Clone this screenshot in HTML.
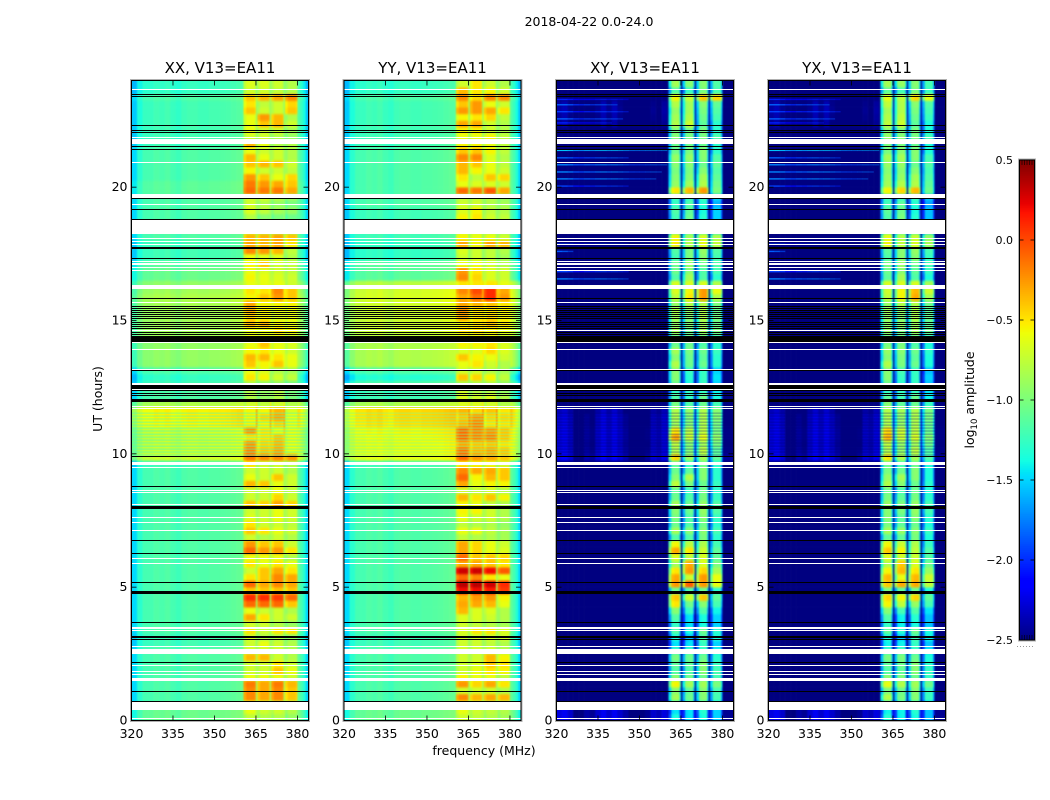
<!DOCTYPE html>
<html>
<head>
<meta charset="utf-8">
<title>2018-04-22 0.0-24.0</title>
<style>
html,body{margin:0;padding:0;background:#fff;width:1050px;height:800px;overflow:hidden}
svg{display:block}
text{font-family:"DejaVu Sans","Liberation Sans",sans-serif;fill:#000}
</style>
</head>
<body>
<svg id="chart" xmlns="http://www.w3.org/2000/svg" width="1050" height="800" viewBox="0 0 1050 800">
<defs>
<filter id="soften" filterUnits="userSpaceOnUse" x="0" y="0" width="1050" height="800" color-interpolation-filters="sRGB"><feGaussianBlur stdDeviation="0.7 1"/></filter>
</defs>
<text x="589" y="26" font-size="12.5" text-anchor="middle">2018-04-22 0.0-24.0</text>
<text transform="translate(102,399) rotate(-90)" font-size="12.5" text-anchor="middle">UT (hours)</text>
<text x="484" y="755" font-size="12.5" text-anchor="middle">frequency (MHz)</text>
<text transform="translate(974,400) rotate(-90)" font-size="12.5" text-anchor="middle">log<tspan dy="3" font-size="8.5">10</tspan><tspan dy="-3"> amplitude</tspan></text>
</svg>
<script>
// Channel start frequencies (MHz); the last channel ends at freqMax.
const channelStart = [320,322,324,326,328,330,332,334,336,338,340,342,344,346,348,350,352,354,356,358,360,
  360.5,361.5,362.5,363.5,364.5,365,365.5,366.5,367.5,368.5,369.5,370,370.5,371.5,372.5,373.5,374.5,375,
  375.5,376.5,377.5,378.5,379.5,380,381,382,383];
// Which value of a row each channel reads: 0 = continuum, 1-4 = spectral windows.
const channelSource = [0,0,0,0,0,0,0,0,0,0,0,0,0,0,0,0,0,0,0,0,0,
  1,1,1,1,1,0,2,2,2,2,2,0,3,3,3,3,3,0,4,4,4,4,4,0,0,0,0];
// Per-channel log10 amplitude offsets.
const shapeParallel = [-.28,-.1,0,0,.04,.02,.05,0,-.03,.03,.05,.05,.03,.03,.05,.05,.06,.07,.09,.11,.13,
  -.1,0,0,0,-.05,.33,-.1,0,0,0,-.05,.33,-.1,0,0,0,-.05,.33,-.1,0,0,0,-.05,.1,0,-.12,-.3];
const shapeCross = [.2,.25,.15,-.05,-.1,.05,0,.15,.25,.15,.25,.15,.05,-.1,-.1,-.1,0,.15,.1,.2,.1,
  -.5,0,.05,.05,-.5,.2,-.5,0,.05,.05,-.5,.2,-.5,0,.05,.05,-.5,.2,-.45,0,0,0,-.4,0,0,0,0];

// One row per 0.25 h, from UT 0 upward: [continuum, window1, window2, window3, window4] in log10 amplitude.
const rowsXX = [
[-1.1,-.75,-.8,-.8,-.9],[-1.1,-.6,-.7,-.7,-.8],[-1.2,-.6,-.7,-.7,-.8],[-1.2,-.2,-.3,-.2,-.4],
[-1.2,-.2,-.3,-.2,-.4],[-1.2,-.15,-.3,-.15,-.35],[-1.2,-.6,-.6,-.6,-.7],[-1.2,-.7,-.7,-.4,-.6],
[-1.2,-.7,-.7,-.5,-.7],[-1.2,-.35,-.35,-.7,-.8],[-1.2,-.7,-.7,-.7,-.8],[-1.25,-.7,-.6,-.7,-.8],
[-1.25,-.7,-.8,-.8,-.9],[-1.2,-.5,-.7,-.5,-.5],[-1.2,-.7,-.7,-.8,-.9],[-1.2,-.3,-.5,-.7,-.7],
[-1.2,-.6,-.7,-.7,-.8],[-1.2,-.1,-.1,-.1,-.4],[-1.2,.1,.1,.05,-.1],[-1.2,-.4,-.4,-.4,-.4],
[-1.2,-.1,-.3,-.2,-.3],[-1.2,-.5,-.4,-.2,-.3],[-1.2,-.7,-.4,-.3,-.5],[-1.2,-.5,-.6,-.5,-.6],
[-1.2,-.6,-.6,-.6,-.8],[-1.2,-.1,-.25,-.25,-.5],[-1.2,-.25,-.4,-.4,-.7],[-1.2,-.7,-.8,-.7,-.8],
[-1.2,-.4,-.5,-.6,-.7],[-1.2,-.5,-.7,-.7,-.75],[-1.2,-.65,-.7,-.6,-.7],[-1.2,-.7,-.7,-.6,-.7],
[-1.2,-.4,-.45,-.3,-.45],[-1.2,-.7,-.7,-.45,-.7],[-1.2,-.7,-.7,-.6,-.75],[-1.2,-.35,-.4,-.6,-.7],
[-1.2,-.6,-.7,-.4,-.7],[-1.2,-.7,-.7,-.7,-.8],[-1.25,-.5,-.7,-.7,-.8],[-.74,-.15,-.2,-.2,-.25],
[-.76,-.2,-.4,-.3,-.6],[-.76,-.25,-.45,-.35,-.6],[-.76,-.5,-.5,-.4,-.6],[-.74,-.25,-.5,-.6,-.6],
[-.6,-.55,-.55,-.45,-.6],[-.58,-.55,-.45,-.3,-.6],[-.58,-.55,-.55,-.35,-.65],[-.85,-.7,-.75,-.7,-.8],
[-1.2,-.8,-.9,-.8,-1],[-1.2,-.8,-.9,-.8,-1],[-1.25,-.8,-.9,-.9,-1],[-1.3,-.5,-.55,-.7,-.75],
[-1.2,-.6,-.65,-.8,-.85],[-.95,-.4,-.55,-.4,-.6],[-.95,-.35,-.35,-.5,-.6],[-.95,-.55,-.5,-.6,-.7],
[-.95,-.6,-.4,-.6,-.65],[-.9,-.6,-.6,-.6,-.7],[-.9,-.6,-.6,-.5,-.55],[-.9,-.35,-.35,-.55,-.6],
[-.9,-.45,-.55,-.65,-.6],[-.9,-.35,-.55,-.6,-.6],[-.88,-.3,-.55,-.55,-.55],[-.85,-.55,-.4,-.25,-.4],
[-.9,-.5,-.5,-.2,-.4],[-.95,-.6,-.6,-.6,-.7],[-1.1,-.55,-.6,-.65,-.7],[-1.1,-.6,-.65,-.7,-.75],
[-1.15,-.55,-.4,-.7,-.75],[-1.25,-.6,-.65,-.65,-.8],[-1.25,-.2,-.25,-.35,-.75],[-1.25,-.3,-.35,-.3,-.5],
[-1.2,-.35,-.35,-.3,-.4],[-1.2,-.7,-.8,-.8,-.9],[-1.2,-.7,-.8,-.8,-.9],[-1.2,-.8,-.95,-1,-1.05],
[-1.2,-.65,-.75,-.85,-.9],[-1.2,-.7,-.8,-.9,-1],[-1.2,-.7,-.7,-.8,-.9],[-1.15,-.1,-.15,-.15,-.3],
[-1.15,-.15,-.25,-.3,-.4],[-1.2,-.25,-.4,-.6,-.45],[-1.2,-.55,-.7,-.7,-.75],[-1.2,-.4,-.35,-.4,-.7],
[-1.2,-.35,-.6,-.7,-.8],[-1.2,-.6,-.7,-.7,-.8],[-1.25,-.35,-.6,-.8,-.8],[-1.25,-.7,-.7,-.8,-.9],
[-1.25,-.6,-.7,-.7,-.85],[-1.25,-.6,-.4,-.35,-.7],[-1.25,-.6,-.25,-.35,-.8],[-1.25,-.4,-.7,-.7,-.4],
[-1.25,-.5,-.75,-.7,-.45],[-1.2,-.4,-.35,-.3,-.2],[-1.3,-.7,-.7,-.75,-.8],[-1.3,-.65,-.65,-.7,-.8]];

const rowsYY = [
[-1.1,-.7,-.75,-.8,-.85],[-1.1,-.6,-.7,-.75,-.8],[-1.2,-.6,-.7,-.75,-.8],[-1.2,-.2,-.35,-.3,-.35],
[-1.2,-.7,-.7,-.7,-.8],[-1.2,-.25,-.45,-.3,-.5],[-1.2,-.55,-.6,-.6,-.75],[-1.2,-.7,-.6,-.5,-.55],
[-1.2,-.7,-.65,-.4,-.5],[-1.2,-.7,-.7,-.35,-.55],[-1.2,-.7,-.7,-.7,-.8],[-1.25,-.7,-.7,-.75,-.8],
[-1.25,-.7,-.7,-.7,-.7],[-1.2,-.65,-.5,-.5,-.65],[-1.2,-.7,-.75,-.8,-.85],[-1.2,-.65,-.65,-.7,-.8],
[-1.2,-.35,-.65,-.65,-.8],[-1.2,-.3,-.3,-.35,-.6],[-1.2,-.35,-.25,-.25,-.55],[-1.2,.2,.2,.15,.05],
[-1.2,.35,.35,.3,.1],[-1.2,-.1,-.2,-.5,-.6],[-1.2,.3,.3,.2,-.05],[-1.2,-.3,-.3,-.4,-.5],
[-1.2,-.1,-.4,-.4,-.45],[-1.2,-.3,-.45,-.6,-.65],[-1.2,-.3,-.45,-.6,-.7],[-1.2,-.75,-.8,-.8,-.85],
[-1.2,-.6,-.6,-.75,-.85],[-1.2,-.75,-.8,-.8,-.9],[-1.2,-.6,-.7,-.7,-.8],[-1.2,-.55,-.55,-.7,-.8],
[-1.2,-.55,-.6,-.75,-.8],[-1.2,-.35,-.5,-.4,-.55],[-1.2,-.7,-.75,-.7,-.8],[-1.2,-.3,-.6,-.55,-.55],
[-1.2,-.1,-.55,-.35,-.4],[-1.2,-.2,-.3,-.3,-.4],[-1.25,-.5,-.55,-.6,-.7],[-.65,-.1,-.25,-.3,-.4],
[-.65,-.15,-.35,-.3,-.4],[-.65,-.3,-.4,-.4,-.5],[-.62,-.12,-.2,-.2,-.4],[-.6,-.12,-.2,-.25,-.4],
[-.52,-.35,-.2,-.5,-.5],[-.5,-.4,-.25,-.45,-.45],[-.5,-.35,-.45,-.4,-.5],[-.85,-.65,-.65,-.7,-.8],
[-1.25,-.65,-.7,-.65,-.8],[-1.25,-.7,-.8,-.8,-.9],[-1.2,-.8,-.8,-.8,-.9],[-1.35,-.4,-.45,-.55,-.75],
[-1.2,-.7,-.7,-.8,-.85],[-.85,-.6,-.5,-.7,-.8],[-.85,-.4,-.55,-.6,-.7],[-.85,-.65,-.65,-.45,-.65],
[-.85,-.55,-.55,-.5,-.65],[-.8,-.6,-.6,-.6,-.7],[-.75,-.5,-.5,-.55,-.6],[-.75,-.55,-.5,-.4,-.5],
[-.75,-.3,-.5,-.45,-.55],[-.75,-.25,-.5,-.5,-.55],[-.72,-.3,-.35,-.4,-.5],[-.7,-.3,-.1,.1,-.25],
[-.72,-.2,0,.1,-.3],[-.8,-.5,-.5,-.5,-.6],[-1.15,-.2,-.45,-.65,-.7],[-1.15,-.25,-.5,-.65,-.7],
[-1.15,-.6,-.6,-.7,-.8],[-1.3,-.7,-.7,-.75,-.85],[-1.3,-.65,-.7,-.75,-.8],[-1.3,-.3,-.55,-.3,-.35],
[-1.25,-.55,-.6,-.6,-.7],[-1.25,-.7,-.7,-.8,-.9],[-1.25,-.7,-.7,-.8,-.9],[-1.25,-.55,-.5,-.7,-.75],
[-1.25,-.65,-.55,-.75,-.8],[-1.2,-.7,-.7,-.8,-.85],[-1.2,-.75,-.75,-.8,-.9],[-1.2,-.1,-.15,-.05,-.3],
[-1.2,-.6,-.65,-.65,-.7],[-1.2,-.5,-.75,-.4,-.45],[-1.2,-.35,-.55,-.6,-.7],[-1.2,-.35,-.4,-.6,-.75],
[-1.2,-.2,-.2,-.65,-.8],[-1.2,-.4,-.4,-.55,-.75],[-1.25,-.55,-.55,-.6,-.75],[-1.25,-.6,-.6,-.55,-.75],
[-1.25,-.55,-.55,-.7,-.8],[-1.25,-.3,-.3,-.7,-.8],[-1.25,-.55,-.5,-.45,-.75],[-1.25,-.25,-.25,-.3,-.5],
[-1.25,-.4,-.25,-.6,-.7],[-1.2,-.2,-.45,-.2,-.2],[-1.3,-.35,-.5,-.55,-.7],[-1.3,-.7,-.5,-.7,-.8]];

const rowsXY = [
[-2.45,-1.4,-1.5,-1.4,-1.5],[-2.45,-1.5,-1.5,-1.35,-1.5],[-2.8,-1.3,-1.3,-1.3,-1.4],[-2.8,-.9,-1.1,-1,-1.2],
[-2.8,-1,-1.15,-1,-1.2],[-2.8,-.6,-.9,-.9,-1],[-2.8,-1,-1.1,-1.1,-1.2],[-2.8,-1.2,-1.2,-1,-1.2],
[-2.8,-1.15,-1.15,-1,-1.25],[-2.8,-1.05,-1.1,-1.1,-1.3],[-2.8,-1.3,-1.3,-1.3,-1.4],[-2.8,-1.5,-1.5,-1.3,-1.5],
[-2.8,-1.4,-1.6,-1.2,-1.35],[-2.8,-1.2,-1.4,-1.1,-1.3],[-2.8,-1.3,-1.5,-1.4,-1.5],[-2.8,-1.2,-1.5,-1.4,-1.5],
[-2.8,-1,-1.3,-1.2,-1.4],[-2.8,-.55,-1.1,-1,-1.2],[-2.8,-.45,-.75,-.45,-1.1],[-2.8,-1.1,-1.2,-1.1,-1.3],
[-2.8,-.3,-.1,-.3,-.6],[-2.8,-.35,-.75,-.3,-.6],[-2.8,-.55,-.3,-.5,-.85],[-2.8,-.9,-.35,-.7,-1],
[-2.8,-.7,-.8,-.7,-1.1],[-2.8,-.35,-.55,-.75,-1.1],[-2.8,-.6,-.8,-.85,-1.2],[-2.8,-1.2,-1.2,-1.05,-1.3],
[-2.8,-.9,-1,-1,-1.2],[-2.8,-1.1,-1.2,-1.1,-1.3],[-2.8,-1.05,-1.2,-1,-1.25],[-2.8,-1,-1.1,-.95,-1.15],
[-2.8,-.9,-1.1,-.95,-1.15],[-2.8,-1.1,-1.2,-1.05,-1.25],[-2.8,-1.15,-1.3,-1.1,-1.3],[-2.8,-.8,-1.05,-1.1,-1.25],
[-2.8,-1,-.85,-1,-1.3],[-2.8,-1.1,-1.15,-1,-1.3],[-2.8,-1.15,-1.3,-1.1,-1.3],[-2.42,-.5,-.9,-.9,-1.1],
[-2.48,-.85,-1,-.8,-1.1],[-2.5,-.8,-1,-.9,-1],[-2.48,-.35,-.75,-.65,-.9],[-2.48,-.55,-.8,-.8,-1],
[-2.5,-.9,-1,-.85,-1],[-2.5,-.85,-1,-.85,-.95],[-2.55,-.85,-.95,-.85,-.95],[-2.8,-1.05,-1.2,-1.1,-1.2],
[-2.8,-1.2,-1.3,-1.1,-1.35],[-2.8,-1.3,-1.3,-1.3,-1.4],[-2.8,-1.1,-1.4,-1.3,-1.5],[-2.8,-1,-1.35,-1.3,-1.45],
[-2.8,-1,-1.3,-1.3,-1.5],[-2.8,-.85,-1.1,-1.1,-1.3],[-2.8,-1,-1.1,-1.15,-1.3],[-2.8,-.9,-1.05,-1.1,-1.25],
[-2.8,-1.1,-1.1,-1.2,-1.3],[-2.8,-1.1,-1.1,-1.1,-1.2],[-2.8,-.9,-1.1,-.9,-1],[-2.8,-.95,-1,-.9,-1.05],
[-2.8,-.9,-1,-.85,-1],[-2.8,-.85,-.95,-.85,-1.05],[-2.8,-.95,-.85,-.85,-1],[-2.8,-.8,-.55,-.3,-.8],
[-2.8,-.7,-.6,-.3,-.6],[-2.8,-.7,-.7,-.7,-.8],[-2.8,-1.2,-.9,-1.2,-1.3],[-2.8,-1.1,-1,-1.2,-1.2],
[-2.8,-1.1,-.95,-1.1,-1.15],[-2.8,-1.25,-1.05,-1,-1.2],[-2.8,-1.2,-1.05,-.95,-1.15],[-2.8,-.55,-.85,-.65,-.75],
[-2.8,-.6,-.9,-.7,-.8],[-2.8,-1.2,-1.2,-1.3,-1.4],[-2.8,-1.2,-1.2,-1.3,-1.4],[-2.8,-1.25,-1.1,-1.35,-1.5],
[-2.8,-1.2,-1.15,-1.4,-1.5],[-2.8,-1.3,-1.2,-1.35,-1.6],[-2.8,-1.3,-1.3,-1.3,-1.5],[-2.8,-.55,-.4,-.3,-1],
[-2.8,-.95,-.9,-.85,-1.05],[-2.8,-1,-1,-.9,-1.1],[-2.8,-1.05,-1.05,-1,-1.15],[-2.8,-1,-1,-1.1,-1.1],
[-2.8,-.95,-.95,-1,-1.15],[-2.8,-1.1,-1.05,-1,-1.3],[-2.8,-1.1,-1.1,-1.1,-1.3],[-2.8,-1,-1.05,-1.05,-1.15],
[-2.8,-1.05,-1.1,-1.05,-1.3],[-2.65,-.85,-.75,-1.15,-1.3],[-2.62,-.9,-.85,-1.1,-1.2],[-2.6,-.95,-.9,-1.05,-1.15],
[-2.62,-.85,-.9,-1,-1.1],[-2.75,-.6,-.75,-.45,-.45],[-2.8,-1.2,-1.3,-1.05,-1.2],[-2.8,-.9,-1,-1,-1.15]];

const rowsYX = [
[-2.45,-1.35,-1.45,-1.4,-1.55],[-2.45,-1.45,-1.45,-1.35,-1.55],[-2.8,-1.3,-1.3,-1.3,-1.45],[-2.8,-.85,-1.05,-1,-1.25],
[-2.8,-1.05,-1.1,-1,-1.25],[-2.8,-.65,-.85,-.9,-1.05],[-2.8,-1,-1.05,-1.1,-1.25],[-2.8,-1.2,-1.15,-1,-1.25],
[-2.8,-1.15,-1.1,-1,-1.3],[-2.8,-1.05,-1.05,-1.1,-1.35],[-2.8,-1.3,-1.25,-1.3,-1.45],[-2.8,-1.45,-1.45,-1.3,-1.55],
[-2.8,-1.4,-1.55,-1.25,-1.4],[-2.8,-1.15,-1.35,-1.1,-1.35],[-2.8,-1.3,-1.45,-1.4,-1.55],[-2.8,-1.2,-1.45,-1.35,-1.55],
[-2.8,-1,-1.25,-1.2,-1.45],[-2.8,-.6,-.8,-.95,-1.2],[-2.8,-.5,-.6,-.5,-1.1],[-2.8,-1.05,-1.15,-1.1,-1.35],
[-2.8,-.45,-.35,-.35,-.75],[-2.8,-.4,-.65,-.4,-.7],[-2.8,-.6,-.4,-.55,-.9],[-2.8,-.85,-.45,-.7,-1.05],
[-2.8,-.7,-.75,-.75,-1.15],[-2.8,-.45,-.6,-.8,-1.15],[-2.8,-.6,-.75,-.85,-1.25],[-2.8,-1.15,-1.15,-1.05,-1.35],
[-2.8,-.9,-.95,-1,-1.25],[-2.8,-1.05,-1.15,-1.1,-1.35],[-2.8,-1,-1.15,-1,-1.3],[-2.8,-1,-1.05,-.95,-1.2],
[-2.8,-.95,-1.05,-.95,-1.2],[-2.8,-1.05,-1.15,-1.05,-1.3],[-2.8,-1.1,-1.25,-1.1,-1.35],[-2.8,-.85,-1,-1.1,-1.3],
[-2.8,-.95,-.9,-1,-1.35],[-2.8,-1.05,-1.1,-1,-1.35],[-2.8,-1.1,-1.25,-1.1,-1.35],[-2.42,-.55,-.85,-.9,-1.15],
[-2.48,-.85,-.95,-.8,-1.15],[-2.5,-.8,-.95,-.9,-1.05],[-2.48,-.4,-.75,-.7,-.95],[-2.48,-.5,-.75,-.8,-1.05],
[-2.5,-.85,-.95,-.85,-1.05],[-2.5,-.85,-.95,-.85,-1],[-2.55,-.85,-.9,-.85,-1],[-2.8,-1,-1.15,-1.1,-1.25],
[-2.8,-1.15,-1.25,-1.1,-1.4],[-2.8,-1.3,-1.3,-1.3,-1.45],[-2.8,-1.1,-1.35,-1.3,-1.55],[-2.8,-1,-1.3,-1.3,-1.5],
[-2.8,-1,-1.25,-1.3,-1.55],[-2.8,-.85,-1.05,-1.1,-1.35],[-2.8,-1,-1.05,-1.15,-1.35],[-2.8,-.95,-1,-1.1,-1.3],
[-2.8,-1.05,-1.05,-1.2,-1.35],[-2.8,-1.1,-1.1,-1.1,-1.25],[-2.8,-.95,-1.05,-.9,-1.05],[-2.8,-.95,-.95,-.9,-1.1],
[-2.8,-.95,-1,-.85,-1.05],[-2.8,-.9,-.95,-.85,-1.1],[-2.8,-.95,-.85,-.85,-1.05],[-2.8,-.8,-.6,-.35,-.85],
[-2.8,-.75,-.6,-.4,-.7],[-2.8,-.7,-.7,-.7,-.85],[-2.8,-1.15,-.9,-1.2,-1.35],[-2.8,-1.1,-1,-1.15,-1.25],
[-2.8,-1.05,-.95,-1.1,-1.2],[-2.8,-1.2,-1,-1,-1.25],[-2.8,-1.15,-1,-.95,-1.2],[-2.8,-.6,-.8,-.7,-.85],
[-2.8,-.65,-.85,-.75,-.9],[-2.8,-1.2,-1.2,-1.3,-1.45],[-2.8,-1.2,-1.2,-1.3,-1.45],[-2.8,-1.2,-1.05,-1.35,-1.55],
[-2.8,-1.15,-1.1,-1.4,-1.55],[-2.8,-1.25,-1.15,-1.35,-1.65],[-2.8,-1.3,-1.3,-1.3,-1.55],[-2.8,-.6,-.5,-.4,-1.05],
[-2.8,-.9,-.85,-.85,-1.1],[-2.8,-.95,-.95,-.9,-1.15],[-2.8,-1,-1,-1,-1.2],[-2.8,-.95,-.95,-1.1,-1.15],
[-2.8,-.9,-.9,-1,-1.2],[-2.8,-1.05,-1,-1,-1.35],[-2.8,-1.05,-1.05,-1.1,-1.35],[-2.8,-.95,-1,-1.05,-1.2],
[-2.8,-1,-1.05,-1.05,-1.35],[-2.65,-.8,-.75,-1.15,-1.35],[-2.62,-.85,-.8,-1.1,-1.25],[-2.6,-.9,-.85,-1.05,-1.2],
[-2.62,-.8,-.85,-1,-1.15],[-2.75,-.65,-.8,-.5,-.6],[-2.8,-1.15,-1.25,-1.05,-1.25],[-2.8,-.9,-.95,-1,-1.2]];

// Faint single-integration streaks in the cross-hand continuum.
const streakUT = [23.29,23.09,22.83,22.56,22.41,21.38,21.1,20.84,20.57,20.31,20.04,17.86,17.59,16.83,16.56];
const streakLevel = [-2.15,-1.95,-2.05,-1.95,-2.15,-1.65,-1.95,-1.85,-1.85,-1.85,-2.05,-2.05,-1.95,-2.05,-1.85];
const streakEndMHz = [346,342,346,344,340,360,346,360,358,356,346,346,326,346,346];

// Flagged time ranges [from UT, to UT] in hours.
const flagsBlank = [[23.64,23.68],[21.86,21.89],[21.63,21.79],[20.9,20.93],[19.58,19.76],[19.35,19.38],[18.24,18.76],
  [18.08,18.11],[17.95,17.99],[17.84,17.88],[17.22,17.25],[17.1,17.14],[16.98,17],[16.89,16.91],[16.19,16.35],
  [15.68,15.71],[14.59,14.63],[14.14,14.18],[13.91,13.95],[13.16,13.2],[12.6,12.64],[12.4,12.42],[11.76,11.8],
  [11.67,11.71],[9.6,9.71],[9.46,9.49],[8.63,8.65],[8.52,8.56],[8.1,8.13],[7.62,7.65],[7.39,7.43],[7.14,7.16],
  [6.08,6.11],[5.86,5.9],[3.45,3.49],[3.35,3.38],[2.74,2.81],[2.48,2.7],[2.06,2.09],[1.83,1.86],[1.73,1.75],
  [1.5,1.61],[.41,.69],[.06,.1]];
const flagsBlack = [[23.47,23.49],[23.39,23.41],[22.31,22.34],[22.14,22.16],[22.02,22.08],[21.49,21.55],[21.4,21.42],
  [19.55,19.58],[19.17,19.2],[18.76,18.79],[17.7,17.75],[17.3,17.36],[15.83,15.86],[15.53,15.56],[15.45,15.47],
  [15.38,15.4],[15.3,15.32],[15.23,15.25],[15.15,15.17],[15.09,15.11],[14.89,14.93],[14.84,14.86],[14.76,14.79],
  [14.69,14.71],[14.54,14.56],[14.47,14.5],[14.18,14.41],[13.09,13.16],[12.42,12.6],[12.35,12.4],[12.26,12.29],
  [12.19,12.21],[11.95,12.05],[9.87,9.91],[8.79,8.81],[7.95,8.03],[6.75,6.78],[6.23,6.3],[5.19,5.21],[4.75,4.85],
  [3.65,3.68],[3.11,3.18],[3.03,3.05],[2.18,2.2],[1.09,1.11],[.69,.74]];
// Low-amplitude interleaved integrations between 10 and 11.6 h.
const interleavedUT = [9.98,10.09,10.2,10.31,10.43,10.54,10.65,10.76,10.88,10.99,11.1,11.21,11.33,11.44,11.55];

const xTickValues = [320,335,350,365,380];
const yTickValues = [0,5,10,15,20];
const colorbarTickValues = [0.5,0,-0.5,-1,-1.5,-2,-2.5];
const colorbarTickLabels = ['0.5','0.0','\u22120.5','\u22121.0','\u22121.5','\u22122.0','\u22122.5'];
const panelTitles = ['XX, V13=EA11','YY, V13=EA11','XY, V13=EA11','YX, V13=EA11'];

const svgNS = 'http://www.w3.org/2000/svg';
const chart = document.getElementById('chart');
const freqMin = 320, freqMax = 384, utMin = 0, utMax = 24, rowHours = 0.25;
const plotTop = 80.5, plotBottom = 720.5, plotWidth = 177;
const vMin = -2.5, vMax = 0.5;

function yScale(ut){ return plotBottom - (ut - utMin) / (utMax - utMin) * (plotBottom - plotTop); }
function xScale(left, mhz){ return left + (mhz - freqMin) / (freqMax - freqMin) * plotWidth; }
function cbScale(v){ return 640 - (v - vMin) / (vMax - vMin) * 480; }
function interp(t, pts){
  for (let i = 1; i < pts.length; i++) {
    if (t <= pts[i][0]) {
      const a = pts[i-1], b = pts[i];
      return a[1] + (b[1] - a[1]) * (t - a[0]) / (b[0] - a[0]);
    }
  }
  return pts[pts.length-1][1];
}
function jet(v){
  const t = Math.max(0, Math.min(1, (v - vMin) / (vMax - vMin)));
  const r = interp(t, [[0,0],[.35,0],[.66,1],[.89,1],[1,.5]]);
  const g = interp(t, [[0,0],[.125,0],[.375,1],[.64,1],[.91,0],[1,0]]);
  const b = interp(t, [[0,.5],[.11,1],[.34,1],[.65,0],[1,0]]);
  return 'rgb(' + Math.round(r*255) + ',' + Math.round(g*255) + ',' + Math.round(b*255) + ')';
}
function make(tag, parent, attrs){
  const el = document.createElementNS(svgNS, tag);
  for (const k in attrs) el.setAttribute(k, attrs[k]);
  parent.appendChild(el);
  return el;
}

const panels = [
  {left:131.5, rows:rowsXX, shape:shapeParallel, stripe:'rgba(70,255,190,0.45)', key:'xx', cross:false},
  {left:344,   rows:rowsYY, shape:shapeParallel, stripe:'rgba(120,255,150,0.42)', key:'yy', cross:false},
  {left:556.5, rows:rowsXY, shape:shapeCross,    stripe:'rgba(0,0,127,0.3)', key:'xy', cross:true},
  {left:768.5, rows:rowsYX, shape:shapeCross,    stripe:'rgba(0,0,127,0.3)', key:'yx', cross:true}
];

panels.forEach(function(p, pi){
  const left = p.left;
  const right = left + plotWidth;
  const panel = make('g', chart, {});
  
  

  const clipId = 'clip-' + p.key;
  const clip = make('clipPath', panel, {id: clipId});
  make('rect', clip, {x:left, y:plotTop, width:plotWidth, height:plotBottom-plotTop});

  const clipped = make('g', panel, {'clip-path':'url(#' + clipId + ')'});
  const blurred = make('g', clipped, {filter:'url(#soften)'});
  
  

  p.rows.forEach(function(row, ri){
    const y1 = yScale((ri + 1) * rowHours);
    const y0 = yScale(ri * rowHours);
    const top = ri === p.rows.length - 1 ? y1 - 6 : y1;
    const bottom = ri === 0 ? y0 + 6 : y0 + 0.3;
    channelStart.forEach(function(mhz, c){
      const next = c + 1 < channelStart.length ? channelStart[c + 1] : freqMax;
      const value = row[channelSource[c]] + p.shape[c];
      let x0 = xScale(left, mhz);
      let x1 = xScale(left, next) + 0.3;
      if (c === 0) x0 -= 6;
      if (c === channelStart.length - 1) x1 += 6;
      const cell = make('rect', blurred, {x:x0.toFixed(2), y:top.toFixed(2), width:(x1-x0).toFixed(2), height:(bottom-top).toFixed(2), fill:jet(value)});
      
      
    });
  });

  if (p.cross) {
    streakUT.forEach(function(ut, si){
      const end = streakEndMHz[si];
      channelStart.forEach(function(mhz, c){
        if (mhz >= end || channelSource[c] !== 0 || mhz >= 360) return;
        const next = channelStart[c + 1];
        const fade = 1 - 0.6 * (mhz - freqMin) / (end - freqMin);
        const seg = make('rect', clipped, {x:xScale(left, mhz).toFixed(2), y:(yScale(ut)-0.7).toFixed(2), width:(xScale(left, next)-xScale(left, mhz)+0.2).toFixed(2), height:1.4, fill:jet(streakLevel[si] + p.shape[c] * 0.5), 'fill-opacity':fade.toFixed(2)});
        
        
      });
    });
  }

  interleavedUT.forEach(function(ut){
    const line = make('rect', clipped, {x:left, y:yScale(ut).toFixed(2), width:plotWidth, height:1.3, fill:p.stripe});
    
    
  });
  flagsBlank.forEach(function(f){
    const yA = Math.round(yScale(f[1]));
    const h = Math.max(1, Math.round(yScale(f[0])) - yA);
    const band = make('rect', clipped, {x:left, y:yA, width:plotWidth, height:h, fill:'#fff'});
    
    
  });
  flagsBlack.forEach(function(f){
    const yA = Math.round(yScale(f[1]));
    const h = Math.max(1, Math.round(yScale(f[0])) - yA);
    const band = make('rect', clipped, {x:left, y:yA, width:plotWidth, height:h, fill:'#000'});
    
    
  });

  const halo = make('rect', panel, {x:left-1, y:plotTop-1, width:plotWidth+2, height:plotBottom-plotTop+2, fill:'none', stroke:'#b0b0b0', 'stroke-width':1});
  
  
  const frame = make('rect', panel, {x:left, y:plotTop, width:plotWidth, height:plotBottom-plotTop, fill:'none', stroke:'#000', 'stroke-width':1});
  
  

  xTickValues.forEach(function(v){
    const x = xScale(left, v);
    const tickB = make('line', panel, {x1:x, x2:x, y1:plotBottom, y2:plotBottom-5, stroke:'#000', 'stroke-width':0.8});
    
    
    const tickT = make('line', panel, {x1:x, x2:x, y1:plotTop, y2:plotTop+5, stroke:'#000', 'stroke-width':0.8});
    
    
    const label = make('text', panel, {x:x, y:738, 'font-size':12.5, 'text-anchor':'middle'});
    
    
    label.textContent = String(v);
  });
  yTickValues.forEach(function(v){
    const y = yScale(v);
    const tickL = make('line', panel, {x1:left, x2:left+5, y1:y, y2:y, stroke:'#000', 'stroke-width':0.8});
    
    
    const tickR = make('line', panel, {x1:right, x2:right-5, y1:y, y2:y, stroke:'#000', 'stroke-width':0.8});
    
    
    const label = make('text', panel, {x:left-4, y:y+4, 'font-size':12.5, 'text-anchor':'end'});
    
    
    label.textContent = String(v);
  });
  const title = make('text', panel, {x:left+plotWidth/2, y:73, 'font-size':15, 'text-anchor':'middle'});
  
  
  title.textContent = panelTitles[pi];
});

// Colorbar
const cb = make('g', chart, {});


const cbX = 1019.5, cbW = 15;
for (let v = vMin; v < vMax; v += 0.0125) {
  const s = make('rect', cb, {x:cbX, y:(cbScale(v + 0.0125)).toFixed(2), width:cbW, height:2.3, fill:jet(v + 0.00625)});
  
  
}
const cbHalo = make('rect', cb, {x:cbX-1, y:159, width:cbW+2, height:482, fill:'none', stroke:'#b0b0b0'});


const cbFrame = make('rect', cb, {x:cbX, y:160, width:cbW, height:480, fill:'none', stroke:'#000'});


colorbarTickValues.forEach(function(v, i){
  const y = cbScale(v);
  const t1 = make('line', cb, {x1:cbX, x2:cbX+4, y1:y, y2:y, stroke:'#000', 'stroke-width':0.8});
  
  
  const t2 = make('line', cb, {x1:cbX+cbW, x2:cbX+cbW-4, y1:y, y2:y, stroke:'#000', 'stroke-width':0.8});
  
  
  const label = make('text', cb, {x:1013, y:y+4, 'font-size':11, 'text-anchor':'end'});
  
  
  label.textContent = colorbarTickLabels[i];
});
const cbEndTicks = [2.5, 5, 7.5, 10, 12.5];
cbEndTicks.forEach(function(dx){
  const a = make('line', cb, {x1:cbX+dx, x2:cbX+dx, y1:160, y2:165, stroke:'#000', 'stroke-width':0.6});
  
  
  const b = make('line', cb, {x1:cbX+dx, x2:cbX+dx, y1:640, y2:635, stroke:'#000', 'stroke-width':0.6});
  
  
});
const dots = make('line', cb, {x1:1017, x2:1035, y1:646.5, y2:646.5, stroke:'#999', 'stroke-width':1, 'stroke-dasharray':'1 2'});


</script>
</body>
</html>
